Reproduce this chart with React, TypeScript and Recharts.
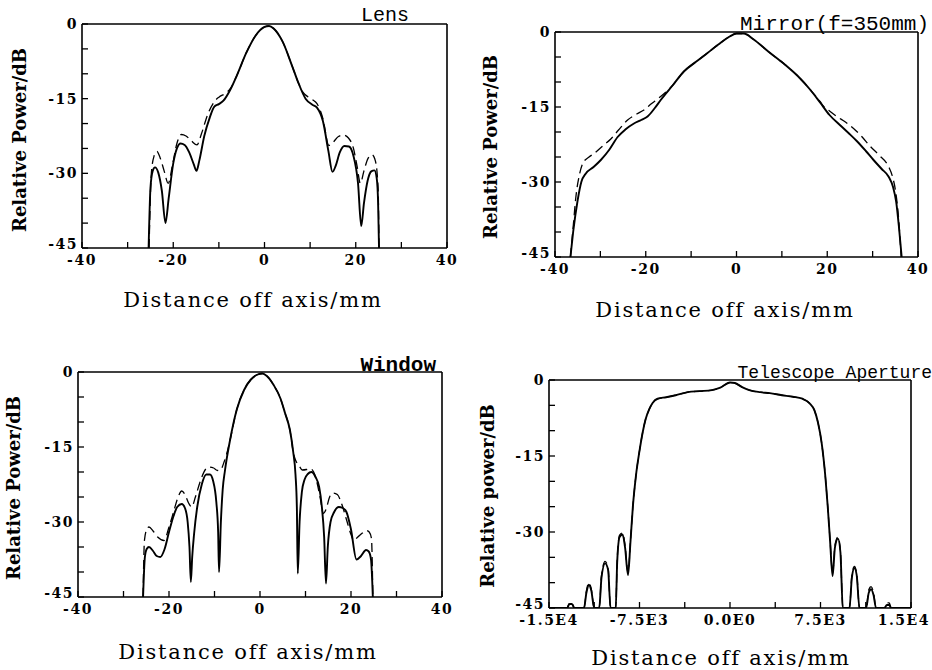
import React from 'react';
import { LineChart, Line, XAxis, YAxis } from 'recharts';

type Pt = [number, number];

// --- axis ticks ---
const mmTicks = [-40, -30, -20, -10, 0, 10, 20, 30, 40];
const mmLabels = [-40, -20, 0, 20, 40];
const dbTicks = [0, -5, -10, -15, -20, -25, -30, -35, -40, -45];
const dbLabels = [0, -15, -30, -45];
const scopeTicks = [-15000, -11250, -7500, -3750, 0, 3750, 7500, 11250, 15000];
const scopeLabelValues = [-15000, -7500, 0, 7500, 15000];
const scopeLabelText = ['-1.5E4', '-7.5E3', '0.0E0', '7.5E3', '1.5E4'];

// --- Lens ---
const lensSolid: Pt[] = [
  [-25.4, -45], [-25.0, -33], [-24.5, -29.5], [-24.0, -28.8], [-23.3, -29.8], [-22.5, -33.5], [-21.7, -40],
  [-21.0, -35], [-20.0, -28], [-19.2, -25], [-18.4, -24], [-17.5, -24.3], [-16.5, -25.8], [-15.5, -28.2],
  [-14.9, -29.5], [-14.3, -27.5], [-13.2, -22.5], [-12, -18.8], [-11, -16.6], [-10, -16.1], [-9, -15.4],
  [-7.5, -13.2], [-6, -10.2], [-4, -5.8], [-2, -2.4], [0, -0.6], [1, -0.4], [2, -0.9], [4, -3.6], [6, -8.3],
  [7.5, -12.0], [9, -15.0], [10.5, -16.2], [11.5, -16.8], [12.8, -19.5], [14, -25.5], [14.9, -29.7],
  [15.6, -28.5], [16.5, -25.8], [17.5, -24.5], [18.5, -24.6], [19.5, -26.5], [20.5, -32], [21.2, -40.6],
  [21.8, -36], [22.6, -31.5], [23.4, -29.6], [24.1, -29.4], [24.6, -31], [24.9, -36], [25.1, -45],
];
const lensDashed: Pt[] = [
  [-25.3, -45], [-24.8, -30], [-24.2, -26.5], [-23.6, -25.6], [-22.9, -26.8], [-22, -29.5], [-21.1, -32],
  [-20.2, -28.5], [-19.2, -24], [-18.2, -22.2], [-17.2, -22.5], [-16, -23.5], [-14.8, -24.3], [-13.8, -22],
  [-12.5, -18.3], [-11, -15.6], [-10, -14.7], [-8.5, -13.9], [-7.5, -13.0], [-6, -10.2], [-4, -5.8],
  [-2, -2.4], [0, -0.6], [1, -0.4], [2, -0.9], [4, -3.6], [6, -8.3], [7.5, -12], [8.5, -13.8], [9.5, -14.6],
  [10.5, -15.2], [11.5, -16.0], [12.8, -19], [14.1, -24.4], [15, -23.8], [16.2, -22.6], [17.3, -22.3],
  [18.4, -22.9], [19.5, -25], [20.3, -28.6], [21, -32], [21.8, -29.5], [22.7, -27], [23.6, -26.3],
  [24.3, -27.5], [24.9, -33], [25.1, -45],
];

// --- Mirror (f=350mm) ---
const mirrorSolid: Pt[] = [
  [-36.6, -45], [-36, -40], [-35, -33.6], [-34.2, -30], [-33.2, -28.3], [-31.5, -27], [-29.9, -25.6],
  [-28, -23.5], [-26.2, -21], [-24.5, -19.5], [-22.6, -18.3], [-21, -17.6], [-19.6, -16.9], [-18, -15.2],
  [-16.7, -13.6], [-14, -10.6], [-11.6, -7.9], [-9, -6.0], [-6.4, -4.2], [-4, -2.5], [-1.5, -0.9],
  [0, -0.3], [1.6, -0.3], [3.8, -1.5], [7, -3.9], [10.4, -6.3], [13.5, -8.8], [16.3, -11.6], [18.5, -14.2],
  [20.5, -16.6], [22.9, -18.7], [24.8, -20.3], [26.5, -21.8], [28.5, -23.8], [30.2, -25.6], [32, -27.4],
  [33.5, -28.9], [34.5, -31], [35.2, -34], [35.8, -39], [36.4, -45],
];
const mirrorDashed: Pt[] = [
  [-36.6, -45], [-36, -39], [-35.4, -33], [-34.6, -28.5], [-33.9, -26.3], [-32.5, -25], [-31.4, -24.3],
  [-29.5, -22.8], [-27.7, -21.4], [-26, -19.6], [-24, -17.6], [-22, -16.4], [-20.4, -15.6], [-18.7, -14.3],
  [-17.1, -13.2], [-14, -10.6], [-11.6, -7.9], [-9, -6.0], [-6.4, -4.2], [-4, -2.5], [-1.5, -0.9], [0, -0.3],
  [1.6, -0.3], [3.8, -1.5], [7, -3.9], [10.4, -6.3], [13.5, -8.8], [16.3, -11.6], [18.5, -14], [19.2, -14.9],
  [20.5, -15.8], [22.1, -16.9], [24, -18], [25.8, -19.3], [27.7, -21], [29.5, -22.9], [31.5, -24.7],
  [33.5, -26.9], [34.4, -29], [35, -31.5], [35.6, -36], [36.3, -45],
];

// --- Window ---
const windowSolid: Pt[] = [
  [-25.7, -45], [-25.3, -37], [-24.9, -35.4], [-24.4, -35], [-23.5, -35.8], [-22.7, -36.8], [-21.9, -37],
  [-21, -35.5], [-20, -32], [-19, -28.8], [-18.2, -27], [-17.2, -26.4], [-16.5, -27.2], [-15.9, -30],
  [-15.5, -35], [-15.2, -42], [-14.9, -37], [-14.5, -32.5], [-13.8, -27], [-12.8, -22.5], [-11.8, -20.5],
  [-11, -20.5], [-10.3, -21.8], [-9.6, -26], [-9.2, -32], [-9.0, -40], [-8.6, -30], [-8.2, -23.5],
  [-7.7, -19.7], [-6.6, -13.7], [-5.1, -7.5], [-3.5, -3.6], [-2, -1.5], [-0.5, -0.5], [0.5, -0.3],
  [1.5, -0.8], [3, -2.6], [4.5, -5.3], [5.5, -8.2], [6.6, -11.7], [7.3, -16], [7.8, -20.5], [8.1, -27],
  [8.3, -40.3], [8.7, -30], [9.2, -24], [9.8, -21.5], [10.5, -20.4], [11.3, -20], [12.2, -21], [13, -23],
  [13.6, -27], [14.1, -33], [14.5, -42.3], [14.9, -35], [15.5, -30], [16.3, -28], [17.3, -27], [18.2, -27.2],
  [19, -28], [20, -31.5], [21.2, -37.5], [22.2, -36.8], [23.3, -35.6], [23.9, -35.9], [24.4, -37.5],
  [24.8, -45],
];
const windowDashed: Pt[] = [
  [-25.7, -45], [-25.4, -33.7], [-24.9, -31.5], [-24.4, -31], [-23.5, -31.8], [-22.5, -33], [-21.1, -33.7],
  [-20, -31], [-19, -28], [-18, -25], [-17.2, -23.8], [-16.5, -24.5], [-15.7, -26.2], [-15, -27],
  [-14.2, -25], [-13.1, -21.8], [-12, -19.5], [-11.2, -19], [-10.2, -19.2], [-9.3, -19.7], [-8.6, -19.5],
  [-7.9, -18], [-7.3, -16.3], [-6.6, -13.7], [-5.1, -7.5], [-3.5, -3.6], [-2, -1.5], [-0.5, -0.5],
  [0.5, -0.3], [1.5, -0.8], [3, -2.6], [4.5, -5.3], [5.5, -8.2], [6.6, -11.7], [7.3, -16], [7.8, -17.6],
  [8.5, -18.6], [9.3, -19.6], [10.2, -19.5], [11, -19.3], [11.8, -20], [12.5, -22], [13.3, -25.5],
  [13.9, -28.3], [14.5, -27.5], [15.3, -25], [16.1, -24.2], [17, -24.5], [18, -26.5], [19, -29.5],
  [20, -32.5], [20.6, -33.7], [21.5, -33], [22.5, -32.2], [23.4, -31.7], [24, -32], [24.5, -33.3],
  [24.8, -45],
];

// --- Telescope Aperture ---
const scopeSolid: Pt[] = [
  [-15000, -45], [-13500, -45], [-13300, -44.2], [-13100, -44.2], [-12900, -45], [-12100, -45],
  [-11900, -42], [-11700, -40.4], [-11500, -41.5], [-11250, -45], [-10840, -45], [-10650, -39],
  [-10350, -36.2], [-10100, -37.5], [-9900, -45], [-9470, -45], [-9350, -36], [-9150, -31], [-8900, -30.5],
  [-8700, -33], [-8450, -38.5], [-8250, -32], [-8050, -25], [-7800, -19], [-7500, -14], [-7250, -10.5],
  [-7000, -7.8], [-6700, -5.8], [-6400, -4.5], [-6000, -3.7], [-5300, -3.4], [-4500, -3.0], [-3500, -2.4],
  [-2500, -2.2], [-1500, -2.0], [-800, -1.5], [0, -0.5], [400, -0.6], [1000, -1.4], [1600, -2.0],
  [2500, -2.4], [3300, -2.6], [4300, -3.0], [5200, -3.3], [6000, -3.7], [6600, -4.6], [7000, -6],
  [7300, -8.5], [7600, -12.5], [7900, -19], [8100, -25], [8300, -32], [8500, -38.7], [8700, -33],
  [8950, -31.3], [9150, -34], [9350, -45], [9900, -45], [10100, -39], [10310, -37.1], [10500, -38.5],
  [10730, -45], [11280, -45], [11500, -42], [11690, -41.3], [11900, -42.5], [12100, -45], [12800, -45],
  [13000, -44.4], [13200, -44.4], [13350, -45], [15000, -45],
];
const scopeDashed: Pt[] = [
  [-15000, -45], [-13500, -45], [-13300, -44.0], [-13100, -44.0], [-12900, -45], [-12100, -45],
  [-11900, -41.6], [-11700, -40.0], [-11500, -41.2], [-11250, -45], [-10840, -45], [-10650, -38.6],
  [-10350, -35.8], [-10100, -37.2], [-9900, -45], [-9470, -45], [-9350, -35.6], [-9150, -30.6],
  [-8900, -30.2], [-8700, -32.6], [-8450, -38], [-8250, -31.8], [-8050, -25], [-7800, -19], [-7500, -14],
  [-7250, -10.5], [-7000, -7.8], [-6700, -5.8], [-6400, -4.5], [-6000, -3.7], [-5300, -3.4], [-4500, -3.0],
  [-3500, -2.4], [-2500, -2.2], [-1500, -2.0], [-800, -1.5], [0, -0.5], [400, -0.6], [1000, -1.4],
  [1600, -2.0], [2500, -2.4], [3300, -2.6], [4300, -3.0], [5200, -3.3], [6000, -3.7], [6600, -4.6],
  [7000, -6], [7300, -8.5], [7600, -12.5], [7900, -19], [8100, -25], [8300, -31.8], [8500, -38.2],
  [8700, -32.6], [8950, -31.0], [9150, -33.6], [9350, -45], [9900, -45], [10100, -38.6], [10310, -36.8],
  [10500, -38.2], [10730, -45], [11280, -45], [11500, -41.4], [11690, -40.8], [11900, -42], [12100, -45],
  [12800, -45], [13000, -44.0], [13200, -44.0], [13350, -45], [15000, -45],
];

const TICK_FONT = '"DejaVu Serif", serif';
const TITLE_FONT = '"Liberation Mono", monospace';
const AXIS_FONT = '"DejaVu Serif", serif';

interface PanelSpec {
  plot: [number, number, number, number]; // left, top, width, height of plot box
  solid: Pt[];
  dashed: Pt[];
  xDomain: [number, number];
  xTicks: number[];
  xFmt: (v: number) => string;
  title: string;
  titleAt: [number, number, number]; // right edge, center y, font size
  titleBold?: boolean;
  yTitle: string;
  yTitleAt: [number, number];
  xTitleAt: [number, number];
}

const mmFmt = (v: number) => (mmLabels.includes(v) ? String(v) : '');
const dbFmt = (v: number) => (dbLabels.includes(v) ? String(v) : '');
const scopeFmt = (v: number) => {
  const i = scopeLabelValues.indexOf(v);
  return i >= 0 ? scopeLabelText[i] : '';
};

const panels: PanelSpec[] = [
  {
    plot: [82, 24, 365, 224], solid: lensSolid, dashed: lensDashed, xDomain: [-40, 40], xTicks: mmTicks,
    xFmt: mmFmt, title: 'Lens', titleAt: [409, 16, 20], yTitle: 'Relative Power/dB', yTitleAt: [20, 140],
    xTitleAt: [253, 300],
  },
  {
    plot: [555, 32, 363, 225], solid: mirrorSolid, dashed: mirrorDashed, xDomain: [-40, 40], xTicks: mmTicks,
    xFmt: mmFmt, title: 'Mirror(f=350mm)', titleAt: [929, 24, 21], yTitle: 'Relative Power/dB',
    yTitleAt: [491, 147], xTitleAt: [725, 310],
  },
  {
    plot: [78, 372, 364, 225], solid: windowSolid, dashed: windowDashed, xDomain: [-40, 40], xTicks: mmTicks,
    xFmt: mmFmt, title: 'Window', titleAt: [436, 365, 21], titleBold: true, yTitle: 'Relative Power/dB',
    yTitleAt: [14, 488], xTitleAt: [248, 652],
  },
  {
    plot: [549, 380, 362, 228], solid: scopeSolid, dashed: scopeDashed, xDomain: [-15000, 15000],
    xTicks: scopeTicks, xFmt: scopeFmt, title: 'Telescope Aperture', titleAt: [932, 373, 18],
    yTitle: 'Relative power/dB', yTitleAt: [488, 496], xTitleAt: [721, 658],
  },
];

const axisLine = { stroke: '#000', strokeWidth: 1.6 };
const tickLine = { stroke: '#000', strokeWidth: 1.3 };
const tickStyle = {
  fill: '#000', fontSize: 14, fontFamily: TICK_FONT, fontWeight: 'bold' as const, letterSpacing: 1.5,
};

// y tick label; the bottom one sits a little higher, as in the print
const YTick = (props: any) => {
  const { x, y, payload } = props;
  const label = dbFmt(payload.value);
  if (!label) return null;
  return (
    <text x={x} y={payload.value === -45 ? y - 4 : y} dy="0.35em" textAnchor="end" {...tickStyle}>
      {label}
    </text>
  );
};

// x tick label; the right-most one is end-anchored so it stays on the page
const XTick = (props: any) => {
  const { x, y, payload, fmt, maxX } = props;
  const label = fmt(payload.value);
  if (!label) return null;
  const last = payload.value === maxX;
  return (
    <text x={last ? x + 19 : x} y={y} dy="0.71em" textAnchor={last ? 'end' : 'middle'} {...tickStyle}>
      {label}
    </text>
  );
};

const Panel: React.FC<{ p: PanelSpec }> = ({ p }) => {
  const [pl, pt, pw, ph] = p.plot;
  const toRows = (pts: Pt[]) => pts.map(([x, y]) => ({ x, y }));
  const maxX = p.xDomain[1] > 1000 ? p.xDomain[1] : null;
  return (
    <>
      <div style={{ position: 'absolute', left: pl - 60, top: pt - 30 }}>
        <LineChart width={pw + 90} height={ph + 70} margin={{ top: 10, right: 10, left: 20, bottom: 10 }}>
          <XAxis xAxisId="b" type="number" dataKey="x" domain={p.xDomain} ticks={p.xTicks} interval={0}
            allowDataOverflow tickSize={-6} tickMargin={13} height={30}
            axisLine={axisLine} tickLine={tickLine} tick={<XTick fmt={p.xFmt} maxX={maxX} />} />
          <XAxis xAxisId="t" orientation="top" type="number" dataKey="x" domain={p.xDomain} ticks={p.xTicks}
            interval={0} allowDataOverflow tickSize={-6} height={20} axisLine={axisLine} tickLine={tickLine}
            tick={false} />
          <YAxis yAxisId="l" type="number" domain={[-45, 0]} ticks={dbTicks} interval={0}
            allowDataOverflow tickSize={-6} tickMargin={10} width={40} axisLine={axisLine} tickLine={tickLine}
            tick={<YTick />} />
          <YAxis yAxisId="r" orientation="right" type="number" domain={[-45, 0]} ticks={dbTicks} interval={0}
            allowDataOverflow tickSize={-6} width={20} axisLine={axisLine} tickLine={tickLine} tick={false} />
          <Line xAxisId="b" yAxisId="l" data={toRows(p.dashed)} dataKey="y" type="monotone" dot={false}
            stroke="#000" strokeWidth={1.3} strokeDasharray="9 5" isAnimationActive={false} />
          <Line xAxisId="b" yAxisId="l" data={toRows(p.solid)} dataKey="y" type="monotone" dot={false}
            stroke="#000" strokeWidth={1.9} isAnimationActive={false} />
        </LineChart>
      </div>
      <div style={{
        position: 'absolute', right: 932 - p.titleAt[0], top: p.titleAt[1], transform: 'translateY(-50%)',
        fontFamily: TITLE_FONT, fontSize: p.titleAt[2], fontWeight: p.titleBold ? 'bold' : 'normal',
        whiteSpace: 'nowrap', lineHeight: 1, color: '#000',
      }}>{p.title}</div>
      <div style={{
        position: 'absolute', left: p.yTitleAt[0], top: p.yTitleAt[1],
        transform: 'translate(-50%, -50%) rotate(-90deg)', fontFamily: AXIS_FONT,
        fontWeight: 'bold', fontSize: 18, whiteSpace: 'nowrap', lineHeight: 1, color: '#000',
      }}>{p.yTitle}</div>
      <div style={{
        position: 'absolute', left: p.xTitleAt[0], top: p.xTitleAt[1], transform: 'translate(-50%, -50%)',
        fontFamily: AXIS_FONT, fontSize: 21, letterSpacing: 1.8, whiteSpace: 'nowrap', lineHeight: 1, color: '#000',
      }}>Distance off axis/mm</div>
    </>
  );
};

export default function App() {
  return (
    <div style={{
      position: 'absolute', left: 0, top: 0, width: 932, height: 670, overflow: 'hidden', background: '#fff',
    }}>
      {panels.map((p) => <Panel key={p.title} p={p} />)}
    </div>
  );
}
